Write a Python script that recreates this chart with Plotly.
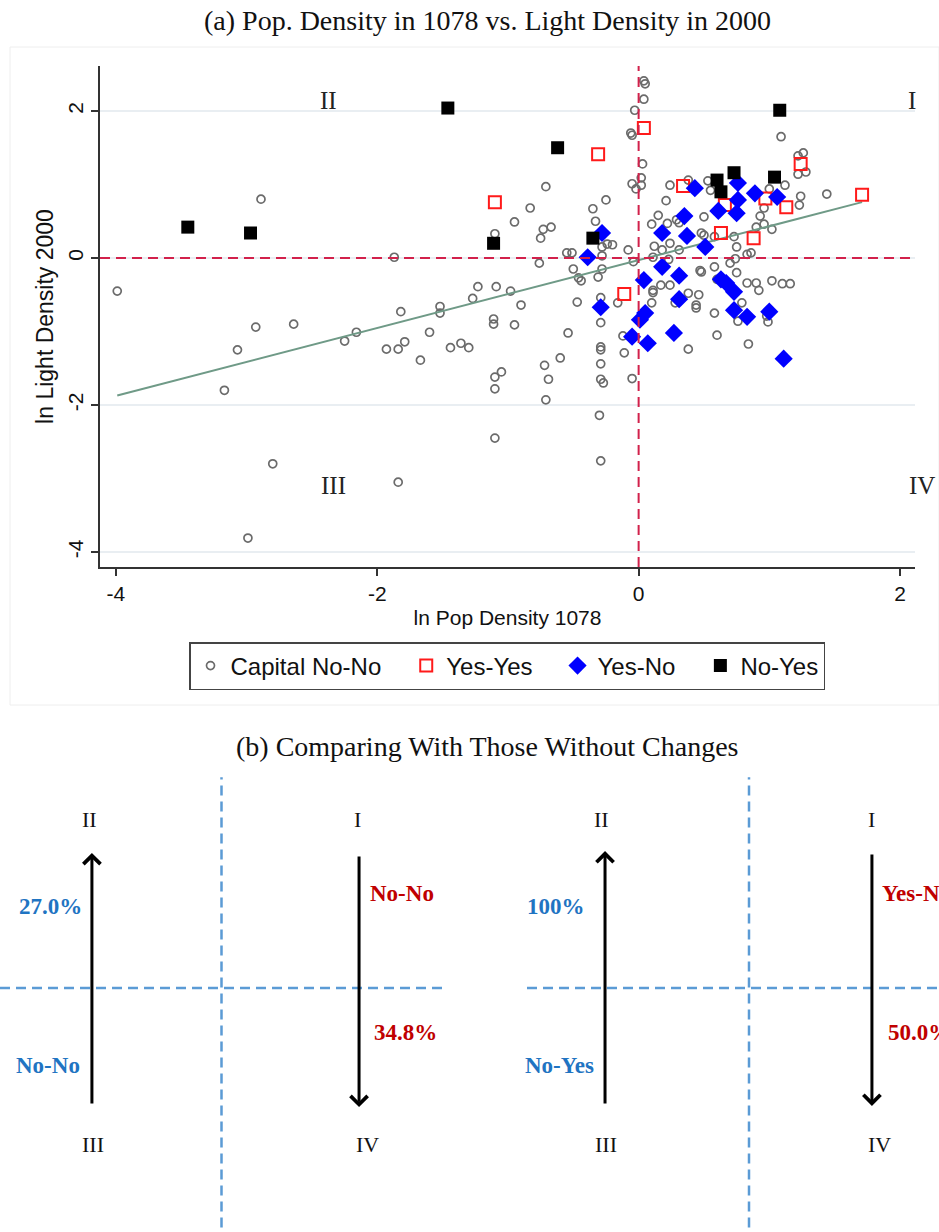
import plotly.graph_objects as go

# ---------------- data: ln pop density 1078 (x) vs ln light density 2000 (y)
capital_no_no = [
    (-3.99, -0.45), (-3.17, -1.80), (-3.07, -1.25), (-2.99, -3.81), (-2.93, -0.94), (-2.89, 0.80),
    (-2.80, -2.80), (-2.64, -0.90), (-2.25, -1.13), (-2.16, -1.01), (-1.93, -1.24), (-1.87, 0.01),
    (-1.84, -1.24), (-1.84, -3.05), (-1.82, -0.73), (-1.79, -1.14), (-1.67, -1.39), (-1.60, -1.01),
    (-1.52, -0.66), (-1.52, -0.75), (-1.44, -1.22), (-1.36, -1.16), (-1.30, -1.22), (-1.27, -0.55),
    (-1.23, -0.39), (-1.11, -0.83), (-1.11, -0.90), (-1.10, 0.33), (-1.09, -0.39), (-1.10, -2.45),
    (-1.05, -1.55), (-1.10, -1.62), (-1.10, -1.78), (-0.98, -0.45), (-0.95, 0.49), (-0.95, -0.91),
    (-0.90, -0.64), (-0.83, 0.68), (-0.76, -0.07), (-0.75, 0.27), (-0.73, 0.39), (-0.72, -1.46),
    (-0.71, 0.97), (-0.71, -1.93), (-0.69, -1.65), (-0.67, 0.42), (-0.60, -1.36), (-0.55, 0.07),
    (-0.54, -1.02), (-0.51, 0.07), (-0.50, -0.15), (-0.47, -0.60), (-0.46, -0.27), (-0.44, -0.31),
    (-0.35, 0.67), (-0.33, 0.50), (-0.31, -0.26), (-0.30, -2.14), (-0.29, -0.54), (-0.29, -0.88),
    (-0.29, -1.21), (-0.29, -1.25), (-0.29, -1.44), (-0.29, -1.65), (-0.27, -1.70), (-0.29, -2.76),
    (-0.28, 0.15), (-0.28, 0.03), (-0.28, -0.15), (-0.25, 0.79), (-0.24, 0.19), (-0.20, 0.18),
    (-0.16, -0.61), (-0.12, -1.06), (-0.11, -1.29), (-0.08, 0.11), (-0.06, 1.70), (-0.05, 1.67),
    (-0.05, 1.01), (-0.05, -1.64), (-0.04, -0.05), (-0.03, 2.01), (-0.02, 0.94),
    (0.02, 1.09), (0.02, 0.99), (0.03, 1.28), (0.04, 2.41), (0.05, 2.37), (0.04, 2.16),
    (0.10, 0.46), (0.11, 0.01), (0.11, -0.44), (0.11, -0.47), (0.10, -0.61), (0.12, 0.16),
    (0.15, 0.58), (0.17, -0.37), (0.18, 0.11), (0.21, 0.78), (0.22, 0.47), (0.31, 0.48),
    (0.23, -0.02), (0.24, 0.20), (0.24, 0.99), (0.24, -0.37), (0.28, -0.61), (0.29, 0.52),
    (0.31, 0.11), (0.38, 1.06), (0.38, -0.48), (0.38, -1.24), (0.44, -0.64), (0.44, -0.68),
    (0.46, -0.50), (0.47, -0.17), (0.48, -0.19), (0.48, 0.34), (0.50, 0.56), (0.50, 0.31),
    (0.53, 1.05), (0.55, 0.92), (0.58, -0.12), (0.58, 0.29), (0.58, -0.75), (0.60, -0.29),
    (0.60, -1.05), (0.70, -0.07), (0.73, 0.29), (0.74, -0.01), (0.75, 0.15), (0.75, -0.20),
    (0.76, -0.86), (0.79, -0.61), (0.83, 0.05), (0.83, -0.34), (0.84, -1.17), (0.86, 0.07),
    (0.90, 0.42), (0.90, -0.34), (0.92, -0.44), (0.93, 0.57), (0.96, 0.68), (0.96, 0.46),
    (0.98, -0.79), (0.99, -0.87), (1.00, 0.94), (1.02, 0.39), (1.02, -0.31), (1.09, 1.65),
    (1.10, -0.35), (1.12, 0.99), (1.16, -0.35), (1.22, 1.39), (1.22, 1.14), (1.23, 0.72),
    (1.24, 0.84), (1.26, 1.43), (1.28, 1.17), (1.44, 0.87),
]
yes_yes = [
    (0.04, 1.77), (-0.31, 1.41), (-1.10, 0.76), (0.34, 0.98), (1.24, 1.28), (1.71, 0.86),
    (1.13, 0.69), (0.97, 0.81), (0.63, 0.34), (0.88, 0.27), (-0.11, -0.49), (0.66, 0.72),
]
yes_no = [
    (0.43, 0.95), (0.35, 0.57), (0.61, 0.64), (0.75, 0.61), (0.76, 0.79), (0.76, 1.02),
    (0.89, 0.88), (1.06, 0.83), (0.18, 0.34), (0.37, 0.30), (0.51, 0.15), (-0.28, 0.34),
    (-0.39, 0.01), (0.18, -0.12), (0.31, -0.24), (0.04, -0.30), (0.67, -0.34), (0.73, -0.46),
    (0.31, -0.56), (-0.29, -0.67), (0.05, -0.75), (0.01, -0.84), (-0.05, -1.07), (0.07, -1.16),
    (0.27, -1.02), (0.73, -0.71), (0.83, -0.80), (1.00, -0.73), (1.11, -1.37), (0.63, -0.29),
]
no_yes = [
    (-3.45, 0.42), (-2.97, 0.34), (-1.46, 2.04), (-1.11, 0.20), (-0.62, 1.50), (-0.35, 0.27),
    (0.60, 1.06), (0.63, 0.90), (0.73, 1.16), (1.04, 1.10), (1.08, 2.01),
]
# linear fit endpoints
fit_x = [-3.99, 1.71]
fit_y = [-1.87, 0.76]

x_ticks = [-4, -2, 0, 2]
y_ticks = [-4, -2, 0, 2]
quadrants = ["I", "II", "III", "IV"]

# ---------------- panel (b): transition shares
up_groups = ["No-No", "No-Yes"]        # III -> II
up_shares = ["27.0%", "100%"]
down_groups = ["No-No", "Yes-No"]      # I -> IV
down_shares = ["34.8%", "50.0%"]

W, H = 939, 1232
SERIF = "Liberation Serif, Times New Roman, serif"
SANS = "Liberation Sans, Arial, sans-serif"
BLUE_T = "#1f74c2"
RED_T = "#c00000"
DASH_B = "#5b9bd5"
PAD = "\u00a0\u00a0\u00a0"   # extra room between legend entries

fig = go.Figure()


def xs(pts):
    return [p[0] for p in pts]


def ys(pts):
    return [p[1] for p in pts]


fig.add_trace(go.Scatter(
    x=xs(capital_no_no), y=ys(capital_no_no), mode="markers", name="Capital No-No" + PAD,
    marker=dict(symbol="circle-open", size=8, color="#6b6b6b", line=dict(width=1.7)),
))
fig.add_trace(go.Scatter(
    x=fit_x, y=fit_y, mode="lines", showlegend=False,
    line=dict(color="#6f9a87", width=2),
))
fig.add_trace(go.Scatter(
    x=xs(yes_yes), y=ys(yes_yes), mode="markers", name="Yes-Yes" + PAD,
    marker=dict(symbol="square-open", size=12, color="#ff1a1a", line=dict(width=2)),
))
fig.add_trace(go.Scatter(
    x=xs(yes_no), y=ys(yes_no), mode="markers", name="Yes-No" + PAD,
    marker=dict(symbol="diamond", size=14, color="#0000ff", line=dict(width=0)),
))
fig.add_trace(go.Scatter(
    x=xs(no_yes), y=ys(no_yes), mode="markers", name="No-Yes",
    marker=dict(symbol="square", size=13, color="#000000", line=dict(width=0)),
))

# hidden axes for the two schematic panels of (b)
fig.add_trace(go.Scatter(x=[0], y=[0], xaxis="x2", yaxis="y2", mode="markers",
                         marker=dict(opacity=0), showlegend=False, hoverinfo="skip"))
fig.add_trace(go.Scatter(x=[0], y=[0], xaxis="x3", yaxis="y3", mode="markers",
                         marker=dict(opacity=0), showlegend=False, hoverinfo="skip"))

axis_font = dict(family=SANS, size=21, color="#111111")
ytitle_font = dict(family=SANS, size=23, color="#111111")

shapes = [
    # faint graph region frame
    dict(type="rect", xref="paper", yref="paper", x0=10 / W, x1=1, y0=1 - 705 / H, y1=1 - 47 / H,
         line=dict(color="#eeeeee", width=1), layer="below"),
    # reference lines at zero
    dict(type="line", xref="x", yref="y domain", x0=0, x1=0, y0=0, y1=1,
         line=dict(color="#d2214b", width=2, dash="10px,6px")),
    dict(type="line", xref="x domain", yref="y", x0=0, x1=1, y0=0, y1=0,
         line=dict(color="#d2214b", width=2, dash="10px,6px")),
]

annotations = [
    dict(text="(a) Pop. Density in 1078 vs. Light Density in 2000", xref="paper", yref="paper",
         x=487 / W, y=1 - 20 / H, xanchor="center", yanchor="middle", showarrow=False,
         font=dict(family=SERIF, size=28, color="#111")),
    dict(text="(b) Comparing With Those Without Changes", xref="paper", yref="paper",
         x=487 / W, y=1 - 747 / H, xanchor="center", yanchor="middle", showarrow=False,
         font=dict(family=SERIF, size=28, color="#111")),
]

# quadrant numerals in panel (a), placed around the plotting area
for lab, qx, qy in zip(quadrants, [912, 328, 333, 922], [100, 100, 486, 486]):
    annotations.append(dict(text=lab, x=qx / W, y=1 - qy / H, xref="paper", yref="paper",
                            xanchor="center", yanchor="middle", showarrow=False,
                            font=dict(family=SERIF, size=25, color="#222")))

# panel (b) schematics
panels = [
    dict(xa="x2", ya="y2", up_x=-0.585, dn_x=0.621, up_tip=0.634, up_tail=-0.549,
         dn_tip=-0.559, dn_tail=0.624, num_x=[0.616, -0.598, -0.580, 0.657],
         up_lab_x=-0.62, dn_lab_x=0.661, dn_pct_x=0.679, up_grp_x=-0.632),
    dict(xa="x3", ya="y3", up_x=-0.650, dn_x=0.555, up_tip=0.643, up_tail=-0.549,
         dn_tip=-0.554, dn_tail=0.634, num_x=[0.555, -0.664, -0.646, 0.591],
         up_lab_x=-0.731, dn_lab_x=0.591, dn_pct_x=0.619, up_grp_x=-0.691),
]
for i, p in enumerate(panels):
    xa, ya = p["xa"], p["ya"]
    shapes.append(dict(type="line", xref=xa, yref=ya, x0=0, x1=0, y0=-1.2, y1=0.99,
                       line=dict(color=DASH_B, width=2.5, dash="10px,6px")))
    shapes.append(dict(type="line", xref=xa + " domain", yref=ya, x0=0, x1=1, y0=0, y1=0,
                       line=dict(color=DASH_B, width=2.5, dash="10px,6px")))
    for lab, nx, ny in zip(quadrants, p["num_x"], [0.793, 0.793, -0.737, -0.737]):
        annotations.append(dict(text=lab, x=nx, y=ny, xref=xa, yref=ya, showarrow=False,
                                font=dict(family=SERIF, size=22, color="#111")))
    # III -> II and I -> IV arrows
    annotations.append(dict(text="", x=p["up_x"], y=p["up_tip"], ax=p["up_x"], ay=p["up_tail"],
                            xref=xa, yref=ya, axref=xa, ayref=ya, showarrow=True,
                            arrowhead=4, arrowsize=1.1, arrowwidth=3, arrowcolor="#000"))
    annotations.append(dict(text="", x=p["dn_x"], y=p["dn_tip"], ax=p["dn_x"], ay=p["dn_tail"],
                            xref=xa, yref=ya, axref=xa, ayref=ya, showarrow=True,
                            arrowhead=4, arrowsize=1.1, arrowwidth=3, arrowcolor="#000"))
    bold = dict(family=SERIF, size=23)
    annotations.append(dict(text="<b>%s</b>" % up_shares[i], x=p["up_lab_x"], y=0.385,
                            xref=xa, yref=ya, xanchor="right", showarrow=False,
                            font=dict(color=BLUE_T, **bold)))
    annotations.append(dict(text="<b>%s</b>" % up_groups[i], x=p["up_grp_x"], y=-0.362,
                            xref=xa, yref=ya, xanchor="right", showarrow=False,
                            font=dict(color=BLUE_T, **bold)))
    annotations.append(dict(text="<b>%s</b>" % down_groups[i], x=p["dn_lab_x"], y=0.446,
                            xref=xa, yref=ya, xanchor="left", showarrow=False,
                            font=dict(color=RED_T, **bold)))
    annotations.append(dict(text="<b>%s</b>" % down_shares[i], x=p["dn_pct_x"], y=-0.211,
                            xref=xa, yref=ya, xanchor="left", showarrow=False,
                            font=dict(color=RED_T, **bold)))

hidden = dict(visible=False, showgrid=False, zeroline=False, fixedrange=True)

fig.update_layout(
    width=W, height=H,
    margin=dict(l=0, r=0, t=0, b=0),
    paper_bgcolor="white", plot_bgcolor="white",
    showlegend=True,
    legend=dict(orientation="h", x=507 / W, y=1 - 666 / H, xanchor="center", yanchor="middle",
                bordercolor="#444444", borderwidth=1.5, bgcolor="white",
                font=dict(family=SANS, size=24, color="#111"), itemsizing="trace"),
    xaxis=dict(domain=[100 / W, 915 / W], range=[-4.122, 2.115], tickvals=x_ticks,
               ticktext=[str(v) for v in x_ticks], ticks="outside", ticklen=7, tickwidth=1.5,
               tickcolor="#333", showline=True, linecolor="#333", linewidth=1.5,
               showgrid=False, zeroline=False, tickfont=axis_font,
               title=dict(text="ln Pop Density 1078", font=axis_font, standoff=6)),
    yaxis=dict(domain=[1 - 567 / H, 1 - 66 / H], range=[-4.204, 2.612], tickvals=y_ticks,
               ticktext=[str(v) for v in y_ticks], tickangle=-90, ticks="outside", ticklen=7,
               tickwidth=1.5, tickcolor="#333", showline=True, linecolor="#333", linewidth=1.5,
               showgrid=True, gridcolor="#e9eef2", gridwidth=2, zeroline=False, tickfont=axis_font,
               ticklabelstandoff=0,
               title=dict(text="ln Light Density 2000", font=ytitle_font, standoff=4)),
    xaxis2=dict(domain=[0, 443 / W], range=[-1, 1], anchor="y2", **hidden),
    yaxis2=dict(domain=[0, 1 - 775 / H], range=[-1.1455, 1], anchor="x2", **hidden),
    xaxis3=dict(domain=[527 / W, 1], range=[-1.0023, 0.8578], anchor="y3", **hidden),
    yaxis3=dict(domain=[0, 1 - 775 / H], range=[-1.1455, 1], anchor="x3", **hidden),
    shapes=shapes,
    annotations=annotations,
)

fig.write_html("out.html")
